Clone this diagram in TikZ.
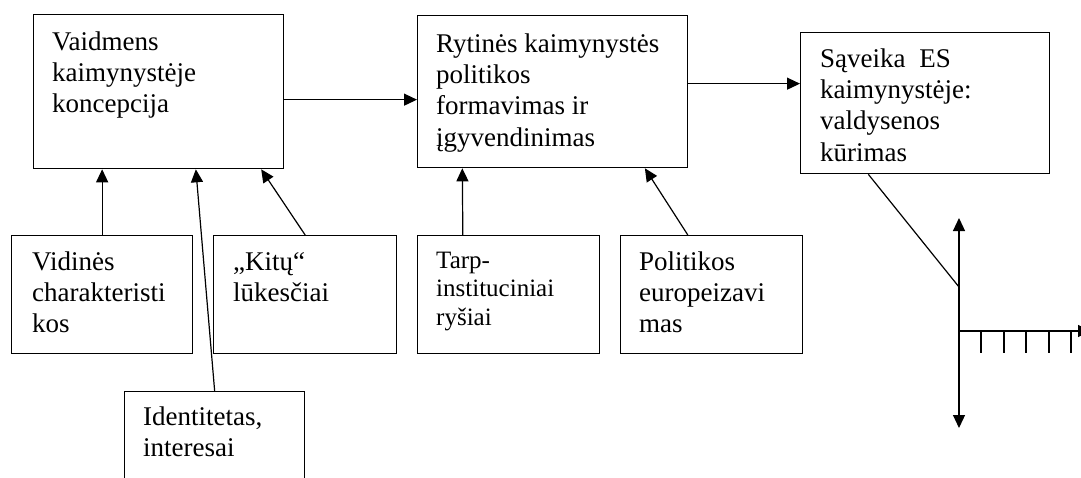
\documentclass[tikz,border=0pt]{standalone}
\usepackage{fontspec}
\setmainfont{Liberation Serif}
\usetikzlibrary{arrows.meta,calc}
\begin{document}
\begin{tikzpicture}[x=1pt,y=-1pt,
  box/.style={draw,line width=1.3pt,rectangle,inner sep=0pt,anchor=north west},
  txt/.style={anchor=base west,inner sep=0pt,font=\fontsize{27}{31.4}\selectfont},
  txtsmall/.style={txt,font=\fontsize{25}{28.6}\selectfont},
  arr/.style={line width=1.2pt,-{Triangle[length=13pt,width=12pt]}},
  ln/.style={line width=1.2pt}]
\fill[white] (0,0) rectangle (1081,477);
\useasboundingbox (0,0) rectangle (1081,477);
\clip (0,0) rectangle (1081,477);

% upper row of boxes
\node[box,minimum width=250pt,minimum height=154pt] (a) at (33,14) {};
\node[box,minimum width=270pt,minimum height=152pt] (b) at (417,15) {};
\node[box,minimum width=249pt,minimum height=141pt] (c) at (800,32) {};

% lower row of boxes
\node[box,minimum width=181pt,minimum height=118pt] (vid) at (11,235) {};
\node[box,minimum width=183pt,minimum height=118pt] (kit) at (213,235) {};
\node[box,minimum width=180pt,minimum height=130pt] (ident) at (124,391) {};
\node[box,minimum width=182pt,minimum height=118pt] (tarp) at (417,235) {};
\node[box,minimum width=182pt,minimum height=118pt] (pol) at (620,235) {};

% box texts
\node[txt] (aT) at (52,50) {\vtop{\hbox{Vaidmens}\hbox{kaimynystėje}\hbox{koncepcija}}};
\node[txt] (bT) at (436,52) {\vtop{\hbox{Rytinės kaimynystės}\hbox{politikos}\hbox{formavimas ir}\hbox{įgyvendinimas}}};
\node[txt] (cT) at (820,67) {\vtop{\hbox{Sąveika\hspace{7pt} ES}\hbox{kaimynystėje:}\hbox{valdysenos}\hbox{kūrimas}}};
\node[txt] (vidT) at (32,270) {\vtop{\hbox{Vidinės}\hbox{charakteristi}\hbox{kos}}};
\node[txt] (kitT) at (233,270) {\vtop{\hbox{„Kitų“}\hbox{lūkesčiai}}};
\node[txt] (identT) at (143,425) {\vtop{\hbox{Identitetas,}\hbox{interesai}}};
\node[txtsmall] (tarpT) at (436,268) {\vtop{\hbox{Tarp-}\hbox{instituciniai}\hbox{ryšiai}}};
\node[txt] (polT) at (639,270) {\vtop{\hbox{Politikos}\hbox{europeizavi}\hbox{mas}}};

% main flow
\draw[arr] ([yshift=-8pt]a.east) -- ([yshift=-8pt]a.east -| b.west);
\draw[arr] ([yshift=8pt]b.east) -- ([yshift=8pt]b.east -| c.west);

% influences on the role conception
\draw[arr] (vid.north) -- (vid.north |- a.south);
\draw[arr] (ident.north) -- ($(a.south west)!0.648!(a.south east)$);
\draw[arr] (kit.north) -- ($(a.south west)!0.908!(a.south east)$);

% influences on policy making
\draw[arr] ($(tarp.north west)!0.25!(tarp.north east)$) -- ($(b.south west)!0.167!(b.south east)$);
\draw[arr] ($(pol.north west)!0.37!(pol.north east)$) -- ($(b.south west)!0.84!(b.south east)$);

% axes
\coordinate (ax0) at (959,331);
\coordinate (axT) at (959,218);
\coordinate (axB) at (959,428);
\coordinate (axR) at (1091,331);
\coordinate (axJ) at (959,287);
\draw[arr] (ax0) -- (axT);
\draw[arr] (ax0) -- (axB);
\draw[arr] (ax0) -- (axR);
\foreach \x in {981,1004,1026,1049,1071}
  \draw[ln] (\x,331) -- (\x,353);
\draw[ln] ($(c.south west)!0.273!(c.south east)$) -- (axJ);
\end{tikzpicture}
\end{document}
